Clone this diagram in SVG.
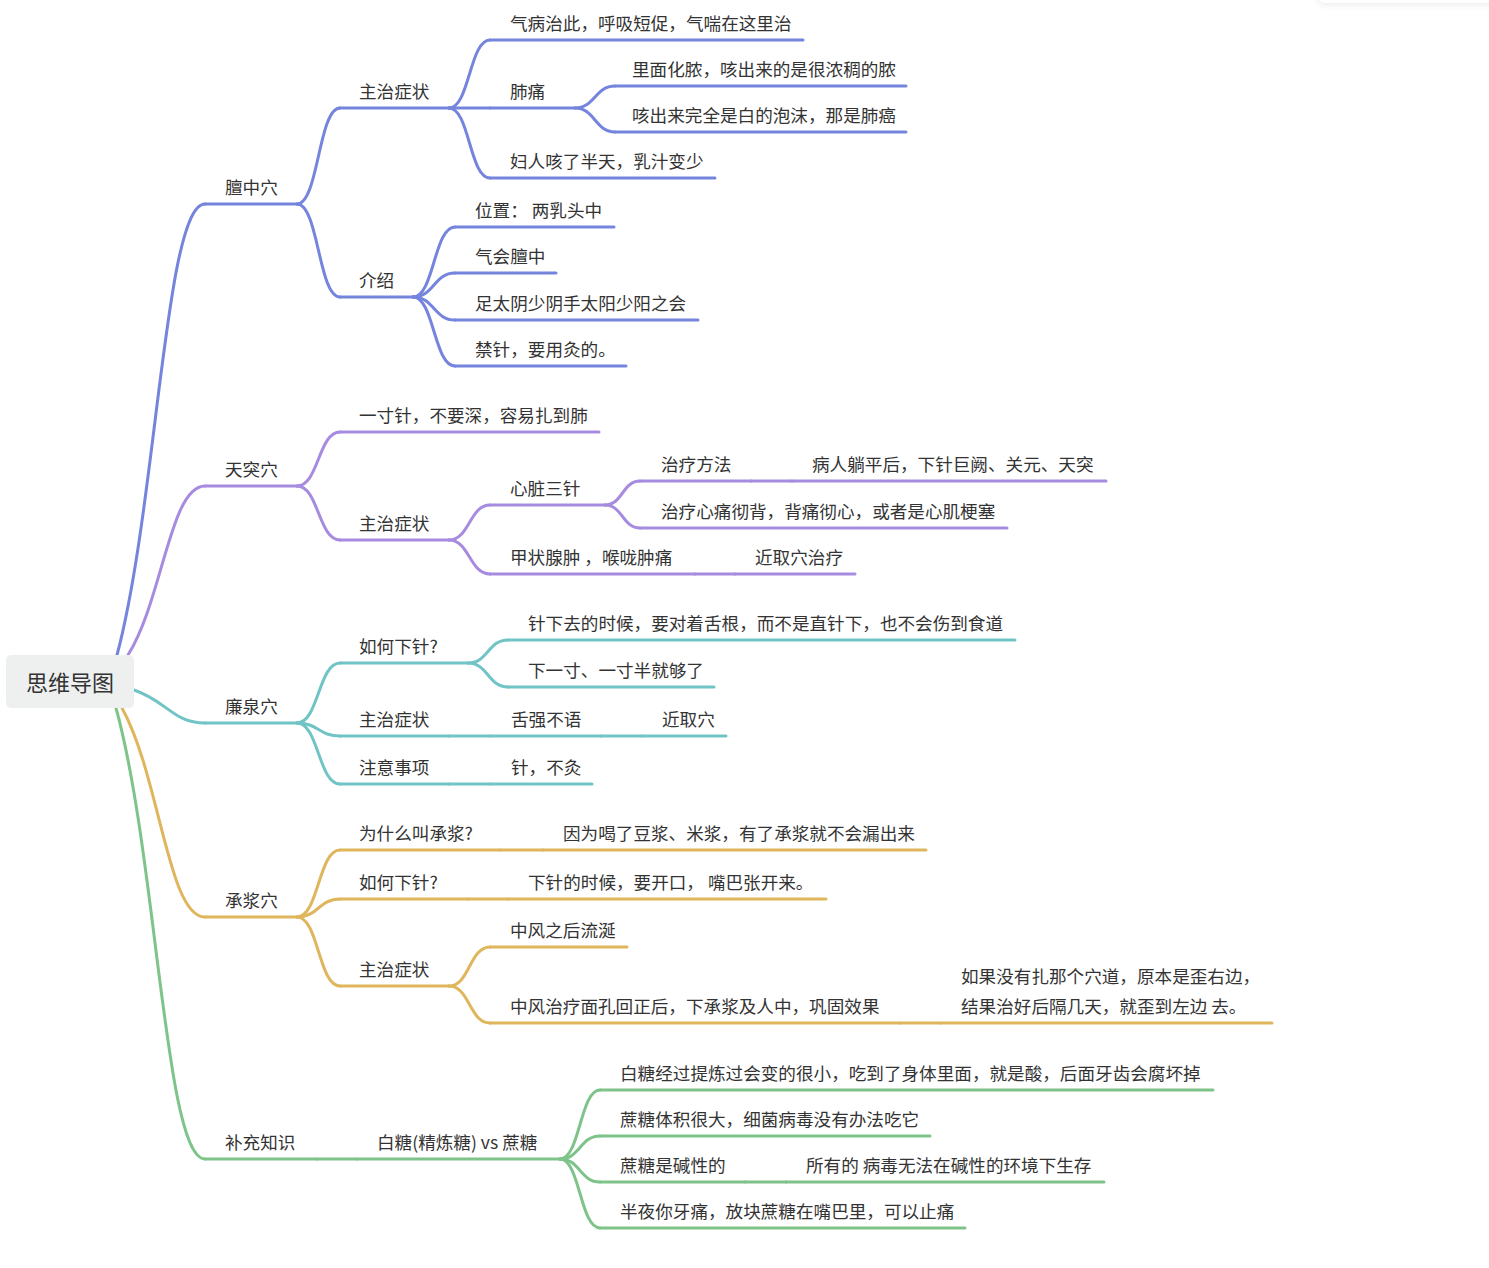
<svg xmlns="http://www.w3.org/2000/svg" width="1489" height="1268" viewBox="0 0 1489 1268">
<defs>
<filter id="sh" x="-20%" y="-100%" width="140%" height="300%"><feDropShadow dx="0" dy="2" stdDeviation="3" flood-color="#000" flood-opacity="0.08"/></filter>
</defs>
<style>
text{font-family:"Noto Sans CJK SC","Microsoft YaHei",sans-serif;font-size:17.6px;fill:#333;}
.root{font-size:22px;text-anchor:middle;}
line,path{fill:none;stroke-width:3;stroke-linecap:round;}
.b{stroke:#7584dc;}
.p{stroke:#a68be0;}
.t{stroke:#71c4c5;}
.g{stroke:#e0b65d;}
.gr{stroke:#7ec48a;}
</style>
<rect x="1318" y="-20" width="190" height="23" rx="8" fill="#fff" filter="url(#sh)"/>
<g id="connectors">
<path class="b" d="M117,655 C157,505 165,204 205,204"/>
<path class="b" d="M297,204 C318.5,204 318.5,108 340,108"/>
<path class="b" d="M297,204 C318.5,204 318.5,297 340,297"/>
<path class="b" d="M449,108 C469.5,108 469.5,40 490,40"/>
<path class="b" d="M449,108 L490,108"/>
<path class="b" d="M449,108 C469.5,108 469.5,178 490,178"/>
<path class="b" d="M575,108 C595,108 595,86 615,86"/>
<path class="b" d="M575,108 C595,108 595,132 615,132"/>
<path class="b" d="M413,297 C434,297 434,227 455,227"/>
<path class="b" d="M413,297 C434,297 434,273 455,273"/>
<path class="b" d="M413,297 C434,297 434,320 455,320"/>
<path class="b" d="M413,297 C434,297 434,366 455,366"/>

<path class="p" d="M128,655 C163,599 170,486 205,486"/>
<path class="p" d="M297,486 C318.5,486 318.5,432 340,432"/>
<path class="p" d="M297,486 C318.5,486 318.5,540 340,540"/>
<path class="p" d="M449,540 C469.5,540 469.5,505 490,505"/>
<path class="p" d="M449,540 C469.5,540 469.5,574 490,574"/>
<path class="p" d="M605,505 C622.5,505 622.5,481 640,481"/>
<path class="p" d="M605,505 C622.5,505 622.5,528 640,528"/>
<path class="p" d="M751,481 L792,481"/>
<path class="p" d="M695,574 L735,574"/>

<path class="t" d="M134,690 C167,701 173,723 205,723"/>
<path class="t" d="M297,723 C318.5,723 318.5,663 340,663"/>
<path class="t" d="M297,723 C318.5,723 318.5,736 340,736"/>
<path class="t" d="M297,723 C318.5,723 318.5,784 340,784"/>
<path class="t" d="M468,663 C488,663 488,640 508,640"/>
<path class="t" d="M468,663 C488,663 488,687 508,687"/>
<path class="t" d="M449,736 L490,736"/>
<path class="t" d="M601,736 L642,736"/>
<path class="t" d="M449,784 L490,784"/>

<path class="g" d="M122,708 C160,777 168,917 205,917"/>
<path class="g" d="M297,917 C318.5,917 318.5,850 340,850"/>
<path class="g" d="M297,917 C318.5,917 318.5,899 340,899"/>
<path class="g" d="M297,917 C318.5,917 318.5,986 340,986"/>
<path class="g" d="M449,986 C469.5,986 469.5,947 490,947"/>
<path class="g" d="M449,986 C469.5,986 469.5,1023 490,1023"/>
<path class="g" d="M500,850 L543,850"/>
<path class="g" d="M468,899 L508,899"/>
<path class="g" d="M900,1023 L941,1023"/>

<path class="gr" d="M116,708 C157,857 165,1159 205,1159"/>
<path class="gr" d="M317,1159 L357,1159"/>
<path class="gr" d="M560,1159 C580,1159 580,1090 600,1090"/>
<path class="gr" d="M560,1159 C580,1159 580,1136 600,1136"/>
<path class="gr" d="M560,1159 C580,1159 580,1182 600,1182"/>
<path class="gr" d="M560,1159 C580,1159 580,1228 600,1228"/>
<path class="gr" d="M745,1182 L786,1182"/>
</g>

<g id="root">
<rect x="6" y="655" width="128" height="53" rx="5" fill="#eef0f0"/>
<text class="root" x="70" y="691">思维导图</text>
</g>

<g id="n-danzhong"><line class="b" x1="205" y1="204" x2="297" y2="204"/><text x="225" y="194">膻中穴</text></g>
<g id="n-dz-zhuzhi"><line class="b" x1="340" y1="108" x2="449" y2="108"/><text x="359" y="98">主治症状</text></g>
<g id="n-dz-qibing"><line class="b" x1="490" y1="40" x2="803" y2="40"/><text x="510" y="30">气病治此，呼吸短促，气喘在这里治</text></g>
<g id="n-dz-feitong"><line class="b" x1="490" y1="108" x2="575" y2="108"/><text x="510" y="98">肺痛</text></g>
<g id="n-dz-huanong"><line class="b" x1="615" y1="86" x2="906" y2="86"/><text x="632" y="76">里面化脓，咳出来的是很浓稠的脓</text></g>
<g id="n-dz-paomo"><line class="b" x1="615" y1="132" x2="906" y2="132"/><text x="632" y="122">咳出来完全是白的泡沫，那是肺癌</text></g>
<g id="n-dz-furen"><line class="b" x1="490" y1="178" x2="715" y2="178"/><text x="510" y="168">妇人咳了半天，乳汁变少</text></g>
<g id="n-dz-jieshao"><line class="b" x1="340" y1="297" x2="413" y2="297"/><text x="359" y="287">介绍</text></g>
<g id="n-dz-weizhi"><line class="b" x1="455" y1="227" x2="614" y2="227"/><text x="475" y="217">位置： 两乳头中</text></g>
<g id="n-dz-qihui"><line class="b" x1="455" y1="273" x2="556" y2="273"/><text x="475" y="263">气会膻中</text></g>
<g id="n-dz-zutaiyin"><line class="b" x1="455" y1="320" x2="698" y2="320"/><text x="475" y="310">足太阴少阴手太阳少阳之会</text></g>
<g id="n-dz-jinzhen"><line class="b" x1="455" y1="366" x2="626" y2="366"/><text x="475" y="356">禁针，要用灸的。</text></g>

<g id="n-tiantu"><line class="p" x1="205" y1="486" x2="297" y2="486"/><text x="225" y="476">天突穴</text></g>
<g id="n-tt-yicun"><line class="p" x1="340" y1="432" x2="599" y2="432"/><text x="359" y="422">一寸针，不要深，容易扎到肺</text></g>
<g id="n-tt-zhuzhi"><line class="p" x1="340" y1="540" x2="449" y2="540"/><text x="359" y="530">主治症状</text></g>
<g id="n-tt-xinzang"><line class="p" x1="490" y1="505" x2="605" y2="505"/><text x="510" y="495">心脏三针</text></g>
<g id="n-tt-fangfa"><line class="p" x1="640" y1="481" x2="751" y2="481"/><text x="661" y="471">治疗方法</text></g>
<g id="n-tt-bingren"><line class="p" x1="792" y1="481" x2="1106" y2="481"/><text x="812" y="471">病人躺平后，下针巨阙、关元、天突</text></g>
<g id="n-tt-xintong"><line class="p" x1="640" y1="528" x2="1007" y2="528"/><text x="661" y="518">治疗心痛彻背，背痛彻心，或者是心肌梗塞</text></g>
<g id="n-tt-jiazhuang"><line class="p" x1="490" y1="574" x2="695" y2="574"/><text x="510" y="564">甲状腺肿 ，喉咙肿痛</text></g>
<g id="n-tt-jinqu"><line class="p" x1="735" y1="574" x2="855" y2="574"/><text x="755" y="564">近取穴治疗</text></g>

<g id="n-lianquan"><line class="t" x1="205" y1="723" x2="297" y2="723"/><text x="225" y="713">廉泉穴</text></g>
<g id="n-lq-ruhe"><line class="t" x1="340" y1="663" x2="468" y2="663"/><text x="359" y="653">如何下针?</text></g>
<g id="n-lq-zhenxia"><line class="t" x1="508" y1="640" x2="1015" y2="640"/><text x="528" y="630">针下去的时候，要对着舌根，而不是直针下，也不会伤到食道</text></g>
<g id="n-lq-xiayicun"><line class="t" x1="508" y1="687" x2="714" y2="687"/><text x="528" y="677">下一寸、一寸半就够了</text></g>
<g id="n-lq-zhuzhi"><line class="t" x1="340" y1="736" x2="449" y2="736"/><text x="359" y="726">主治症状</text></g>
<g id="n-lq-shejiang"><line class="t" x1="490" y1="736" x2="601" y2="736"/><text x="511" y="726">舌强不语</text></g>
<g id="n-lq-jinqu"><line class="t" x1="642" y1="736" x2="726" y2="736"/><text x="662" y="726">近取穴</text></g>
<g id="n-lq-zhuyi"><line class="t" x1="340" y1="784" x2="449" y2="784"/><text x="359" y="774">注意事项</text></g>
<g id="n-lq-zhen"><line class="t" x1="490" y1="784" x2="592" y2="784"/><text x="511" y="774">针，不灸</text></g>

<g id="n-chengjiang"><line class="g" x1="205" y1="917" x2="297" y2="917"/><text x="225" y="907">承浆穴</text></g>
<g id="n-cj-weishenme"><line class="g" x1="340" y1="850" x2="500" y2="850"/><text x="359" y="840">为什么叫承浆?</text></g>
<g id="n-cj-yinwei"><line class="g" x1="543" y1="850" x2="926" y2="850"/><text x="563" y="840">因为喝了豆浆、米浆，有了承浆就不会漏出来</text></g>
<g id="n-cj-ruhe"><line class="g" x1="340" y1="899" x2="468" y2="899"/><text x="359" y="889">如何下针?</text></g>
<g id="n-cj-xiazhen"><line class="g" x1="508" y1="899" x2="826" y2="899"/><text x="528" y="889">下针的时候，要开口， 嘴巴张开来。</text></g>
<g id="n-cj-zhuzhi"><line class="g" x1="340" y1="986" x2="449" y2="986"/><text x="359" y="976">主治症状</text></g>
<g id="n-cj-liuxian"><line class="g" x1="490" y1="947" x2="627" y2="947"/><text x="510" y="937">中风之后流涎</text></g>
<g id="n-cj-zhongfeng"><line class="g" x1="490" y1="1023" x2="900" y2="1023"/><text x="510" y="1013">中风治疗面孔回正后，下承浆及人中，巩固效果</text></g>
<g id="n-cj-ruguo"><line class="g" x1="941" y1="1023" x2="1272" y2="1023"/><text x="961" y="983">如果没有扎那个穴道，原本是歪右边，</text><text x="961" y="1013">结果治好后隔几天，就歪到左边 去。</text></g>

<g id="n-buchong"><line class="gr" x1="205" y1="1159" x2="317" y2="1159"/><text x="225" y="1149">补充知识</text></g>
<g id="n-bc-baitang"><line class="gr" x1="357" y1="1159" x2="560" y2="1159"/><text x="377" y="1149">白糖(精炼糖) vs 蔗糖</text></g>
<g id="n-bc-tilian"><line class="gr" x1="600" y1="1090" x2="1213" y2="1090"/><text x="620" y="1080">白糖经过提炼过会变的很小，吃到了身体里面，就是酸，后面牙齿会腐坏掉</text></g>
<g id="n-bc-tiji"><line class="gr" x1="600" y1="1136" x2="930" y2="1136"/><text x="620" y="1126">蔗糖体积很大，细菌病毒没有办法吃它</text></g>
<g id="n-bc-jianxing"><line class="gr" x1="600" y1="1182" x2="745" y2="1182"/><text x="620" y="1172">蔗糖是碱性的</text></g>
<g id="n-bc-suoyou"><line class="gr" x1="786" y1="1182" x2="1104" y2="1182"/><text x="806" y="1172">所有的 病毒无法在碱性的环境下生存</text></g>
<g id="n-bc-banye"><line class="gr" x1="600" y1="1228" x2="965" y2="1228"/><text x="620" y="1218">半夜你牙痛，放块蔗糖在嘴巴里，可以止痛</text></g>
</svg>
